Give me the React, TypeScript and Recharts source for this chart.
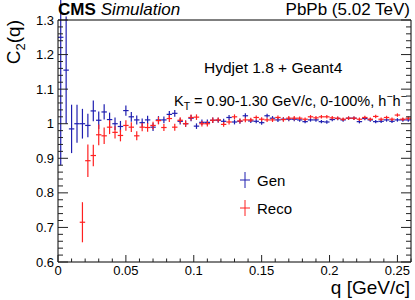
import React from "react";
import { ScatterChart, Scatter, XAxis, YAxis, ErrorBar, Legend } from "recharts";

const FONT = "'Liberation Sans', Arial, Helvetica, sans-serif";
const BLUE = "#1f1fb0";
const RED = "#ff2020";

// bin centres (GeV/c), bin width 0.004
const qBins = [
  0.002, 0.006, 0.01, 0.014, 0.018, 0.022, 0.026, 0.03, 0.034, 0.038,
  0.042, 0.046, 0.05, 0.054, 0.058, 0.062, 0.066, 0.07, 0.074, 0.078,
  0.082, 0.086, 0.09, 0.094, 0.098, 0.102, 0.106, 0.11, 0.114, 0.118,
  0.122, 0.126, 0.13, 0.134, 0.138, 0.142, 0.146, 0.15, 0.154, 0.158,
  0.162, 0.166, 0.17, 0.174, 0.178, 0.182, 0.186, 0.19, 0.194, 0.198,
  0.202, 0.206, 0.21, 0.214, 0.218, 0.222, 0.226, 0.23, 0.234, 0.238,
  0.242, 0.246, 0.25, 0.254, 0.258,
];
const binHalfWidth = 0.002;

const genC2 = [
  1.25, 1.155, 0.985, 1.0, 1.0, 0.995, 1.037, 1.01, 1.034, 1.012,
  1.0, 0.992, 1.038, 1.02, 1.011, 1.003, 1.011, 0.99, 1.011, 1.011,
  1.027, 1.03, 1.007, 1.0, 1.016, 0.993, 1.004, 1.004, 1.01, 1.01,
  1.007, 1.018, 1.005, 1.007, 1.023, 1.008, 1.007, 1.003, 1.023, 1.016,
  1.011, 1.013, 1.013, 1.013, 1.011, 1.006, 1.011, 1.011, 1.006, 1.005,
  1.012, 1.015, 1.011, 1.016, 1.016, 1.006, 1.015, 1.011, 1.006, 1.007,
  1.011, 1.007, 1.011, 1.011, 1.011,
];
const genErr = [
  0.37, 0.155, 0.07, 0.055, 0.043, 0.034, 0.03, 0.025, 0.022, 0.02,
  0.018, 0.016, 0.015, 0.014, 0.013, 0.012, 0.012, 0.011, 0.011, 0.01,
  0.01, 0.01, 0.009, 0.009, 0.009, 0.008, 0.008, 0.008, 0.008, 0.007,
  0.007, 0.007, 0.007, 0.007, 0.007, 0.006, 0.006, 0.006, 0.006, 0.006,
  0.006, 0.006, 0.006, 0.006, 0.005, 0.005, 0.005, 0.005, 0.005, 0.005,
  0.005, 0.005, 0.005, 0.005, 0.005, 0.005, 0.005, 0.005, 0.005, 0.005,
  0.005, 0.005, 0.005, 0.005, 0.005,
];

const recoC2 = [
  null, null, null, null, 0.715, 0.893, 0.908, 0.968, 0.965, 0.99,
  0.975, 0.966, 0.995, 0.99, 0.965, 0.99, 0.989, 0.995, 1.009, 0.989,
  1.015, 0.99, 1.01, 1.0, 1.018, 1.019, 1.0, 1.0, 1.01, 1.011,
  0.998, 1.005, 1.02, 1.008, 1.011, 1.011, 1.018, 1.013, 1.011, 1.011,
  1.018, 1.012, 1.016, 1.016, 1.016, 1.013, 1.02, 1.017, 1.02, 1.02,
  1.017, 1.016, 1.013, 1.016, 1.016, 1.013, 1.018, 1.013, 1.021, 1.013,
  1.018, 1.013, 1.025, 1.013, 1.016,
];
const recoErr = [
  null, null, null, null, 0.058, 0.047, 0.031, 0.03, 0.024, 0.02,
  0.018, 0.017, 0.015, 0.014, 0.013, 0.012, 0.012, 0.011, 0.011, 0.01,
  0.01, 0.01, 0.009, 0.009, 0.009, 0.008, 0.008, 0.008, 0.008, 0.007,
  0.007, 0.007, 0.007, 0.007, 0.007, 0.006, 0.006, 0.006, 0.006, 0.006,
  0.006, 0.006, 0.006, 0.006, 0.005, 0.005, 0.005, 0.005, 0.005, 0.005,
  0.005, 0.005, 0.005, 0.005, 0.005, 0.005, 0.005, 0.005, 0.005, 0.005,
  0.005, 0.005, 0.005, 0.005, 0.005,
];

const xTicks = [
  0, 0.01, 0.02, 0.03, 0.04, 0.05, 0.06, 0.07, 0.08, 0.09, 0.1, 0.11, 0.12, 0.13,
  0.14, 0.15, 0.16, 0.17, 0.18, 0.19, 0.2, 0.21, 0.22, 0.23, 0.24, 0.25, 0.26,
];
const yTicks = [
  0.6, 0.62, 0.64, 0.66, 0.68, 0.7, 0.72, 0.74, 0.76, 0.78, 0.8, 0.82, 0.84, 0.86,
  0.88, 0.9, 0.92, 0.94, 0.96, 0.98, 1.0, 1.02, 1.04, 1.06, 1.08, 1.1, 1.12, 1.14,
  1.16, 1.18, 1.2, 1.22, 1.24, 1.26, 1.28, 1.3,
];

const genData = qBins.map((q, i) => ({ q, c2: genC2[i], err: genErr[i], xerr: binHalfWidth }));
const recoData = qBins
  .map((q, i) => ({ q, c2: recoC2[i], err: recoErr[i], xerr: binHalfWidth }))
  .filter((d) => d.c2 !== null);

const isMultiple = (v: number, step: number) => Math.abs(v / step - Math.round(v / step)) < 1e-6;
const fmt = (v: number) => String(Number(v.toFixed(2)));

function XTick(props: any) {
  const { x, y, payload, side } = props;
  const v = payload.value;
  const major = isMultiple(v, 0.05);
  const len = major ? 7 : 3.5;
  const d = side === "bottom" ? -1 : 1;
  return (
    <g>
      <line x1={x} x2={x} y1={y} y2={y + d * len} stroke="#222" />
      {side === "bottom" && major && (
        <text x={x} y={y + 13} textAnchor="middle" fontSize={13} fontFamily={FONT} fill="#000">
          {fmt(v)}
        </text>
      )}
    </g>
  );
}

function YTick(props: any) {
  const { x, y, payload, side } = props;
  const v = payload.value;
  const major = isMultiple(v, 0.1);
  const len = major ? 10 : 5;
  const d = side === "left" ? 1 : -1;
  return (
    <g>
      <line x1={x} x2={x + d * len} y1={y} y2={y} stroke="#222" />
      {side === "left" && major && (
        <text x={x - 4} y={y + 4.5} textAnchor="end" fontSize={13} fontFamily={FONT} fill="#000">
          {fmt(v)}
        </text>
      )}
    </g>
  );
}

const noMarker = () => <g />;

function LegendBox(props: any) {
  const { payload } = props;
  return (
    <div>
      {(payload || []).map((p: any) => (
        <div key={p.value} style={{ display: "flex", alignItems: "center", height: 28 }}>
          <svg width={16} height={18}>
            <line x1={8} x2={8} y1={1} y2={17} stroke={p.color} />
            <line x1={3} x2={13} y1={9} y2={9} stroke={p.color} />
          </svg>
          <span style={{ marginLeft: 4, fontSize: 15, fontFamily: FONT, color: "#000" }}>{p.value}</span>
        </div>
      ))}
    </div>
  );
}

export default function App() {
  return (
    <div style={{ position: "absolute", left: 0, top: 0, width: 415, height: 300, background: "#fff" }}>
      <ScatterChart width={415} height={300} margin={{ top: 0, right: 0, bottom: 0, left: 0 }}>
        <XAxis
          dataKey="q"
          type="number"
          domain={[0, 0.26]}
          ticks={xTicks}
          interval={0}
          height={38}
          tickSize={0}
          tickMargin={0}
          tickLine={false}
          axisLine={{ stroke: "#000" }}
          tick={(p: any) => <XTick {...p} side="bottom" />}
          allowDataOverflow
        />
        <XAxis
          xAxisId="top"
          orientation="top"
          type="number"
          domain={[0, 0.26]}
          ticks={xTicks}
          interval={0}
          height={20}
          tickSize={0}
          tickMargin={0}
          tickLine={false}
          axisLine={{ stroke: "#000" }}
          tick={(p: any) => <XTick {...p} side="top" />}
          allowDataOverflow
        />
        <YAxis
          dataKey="c2"
          type="number"
          domain={[0.6, 1.3]}
          ticks={yTicks}
          interval={0}
          width={58}
          tickSize={0}
          tickMargin={0}
          tickLine={false}
          axisLine={{ stroke: "#000" }}
          tick={(p: any) => <YTick {...p} side="left" />}
          allowDataOverflow
        />
        <YAxis
          yAxisId="right"
          orientation="right"
          type="number"
          domain={[0.6, 1.3]}
          ticks={yTicks}
          interval={0}
          width={4}
          tickSize={0}
          tickMargin={0}
          tickLine={false}
          axisLine={{ stroke: "#000" }}
          tick={(p: any) => <YTick {...p} side="right" />}
          allowDataOverflow
        />
        <Scatter name="Gen" data={genData} fill={BLUE} stroke={BLUE} shape={noMarker} isAnimationActive={false}>
          <ErrorBar dataKey="err" direction="y" width={0} stroke={BLUE} strokeWidth={1.2} isAnimationActive={false} />
          <ErrorBar dataKey="xerr" direction="x" width={0} stroke={BLUE} strokeWidth={1.2} isAnimationActive={false} />
        </Scatter>
        <Scatter name="Reco" data={recoData} fill={RED} stroke={RED} shape={noMarker} isAnimationActive={false}>
          <ErrorBar dataKey="err" direction="y" width={0} stroke={RED} strokeWidth={1.2} isAnimationActive={false} />
          <ErrorBar dataKey="xerr" direction="x" width={0} stroke={RED} strokeWidth={1.2} isAnimationActive={false} />
        </Scatter>
        <Legend
          layout="vertical"
          align="center"
          verticalAlign="middle"
          content={<LegendBox />}
          wrapperStyle={{ left: 237, top: 166, width: 90 }}
        />
      </ScatterChart>
      <svg
        width={415}
        height={300}
        style={{ position: "absolute", left: 0, top: 0, pointerEvents: "none" }}
        fontFamily={FONT}
      >
        <text x={58} y={15} fontSize={17} fill="#000">
          <tspan fontWeight="bold">CMS</tspan>
          <tspan fontStyle="italic" dx={5}>Simulation</tspan>
        </text>
        <text x={410} y={15} fontSize={17} textAnchor="end" fill="#000">
          PbPb (5.02 TeV)
        </text>
        <text x={204} y={73} fontSize={15.5} fill="#000">
          Hydjet 1.8 + Geant4
        </text>
        <text x={174} y={106} fontSize={14.5} fill="#000">
          K<tspan dy={4} fontSize={10.5}>T</tspan>
          <tspan dy={-4}> = 0.90-1.30 GeV/c, 0-100%, h</tspan>
          <tspan dy={-6} fontSize={10.5}>−</tspan>
          <tspan dy={6}>h</tspan>
          <tspan dy={-6} fontSize={10.5}>−</tspan>
        </text>
        <text x={410} y={294} fontSize={19} textAnchor="end" fill="#000">
          q [GeV/c]
        </text>
        <text x={20} y={20} fontSize={19} textAnchor="end" fill="#000" transform="rotate(-90 20 20)">
          C<tspan dy={5} fontSize={13}>2</tspan>
          <tspan dy={-5}>(q)</tspan>
        </text>
      </svg>
    </div>
  );
}
